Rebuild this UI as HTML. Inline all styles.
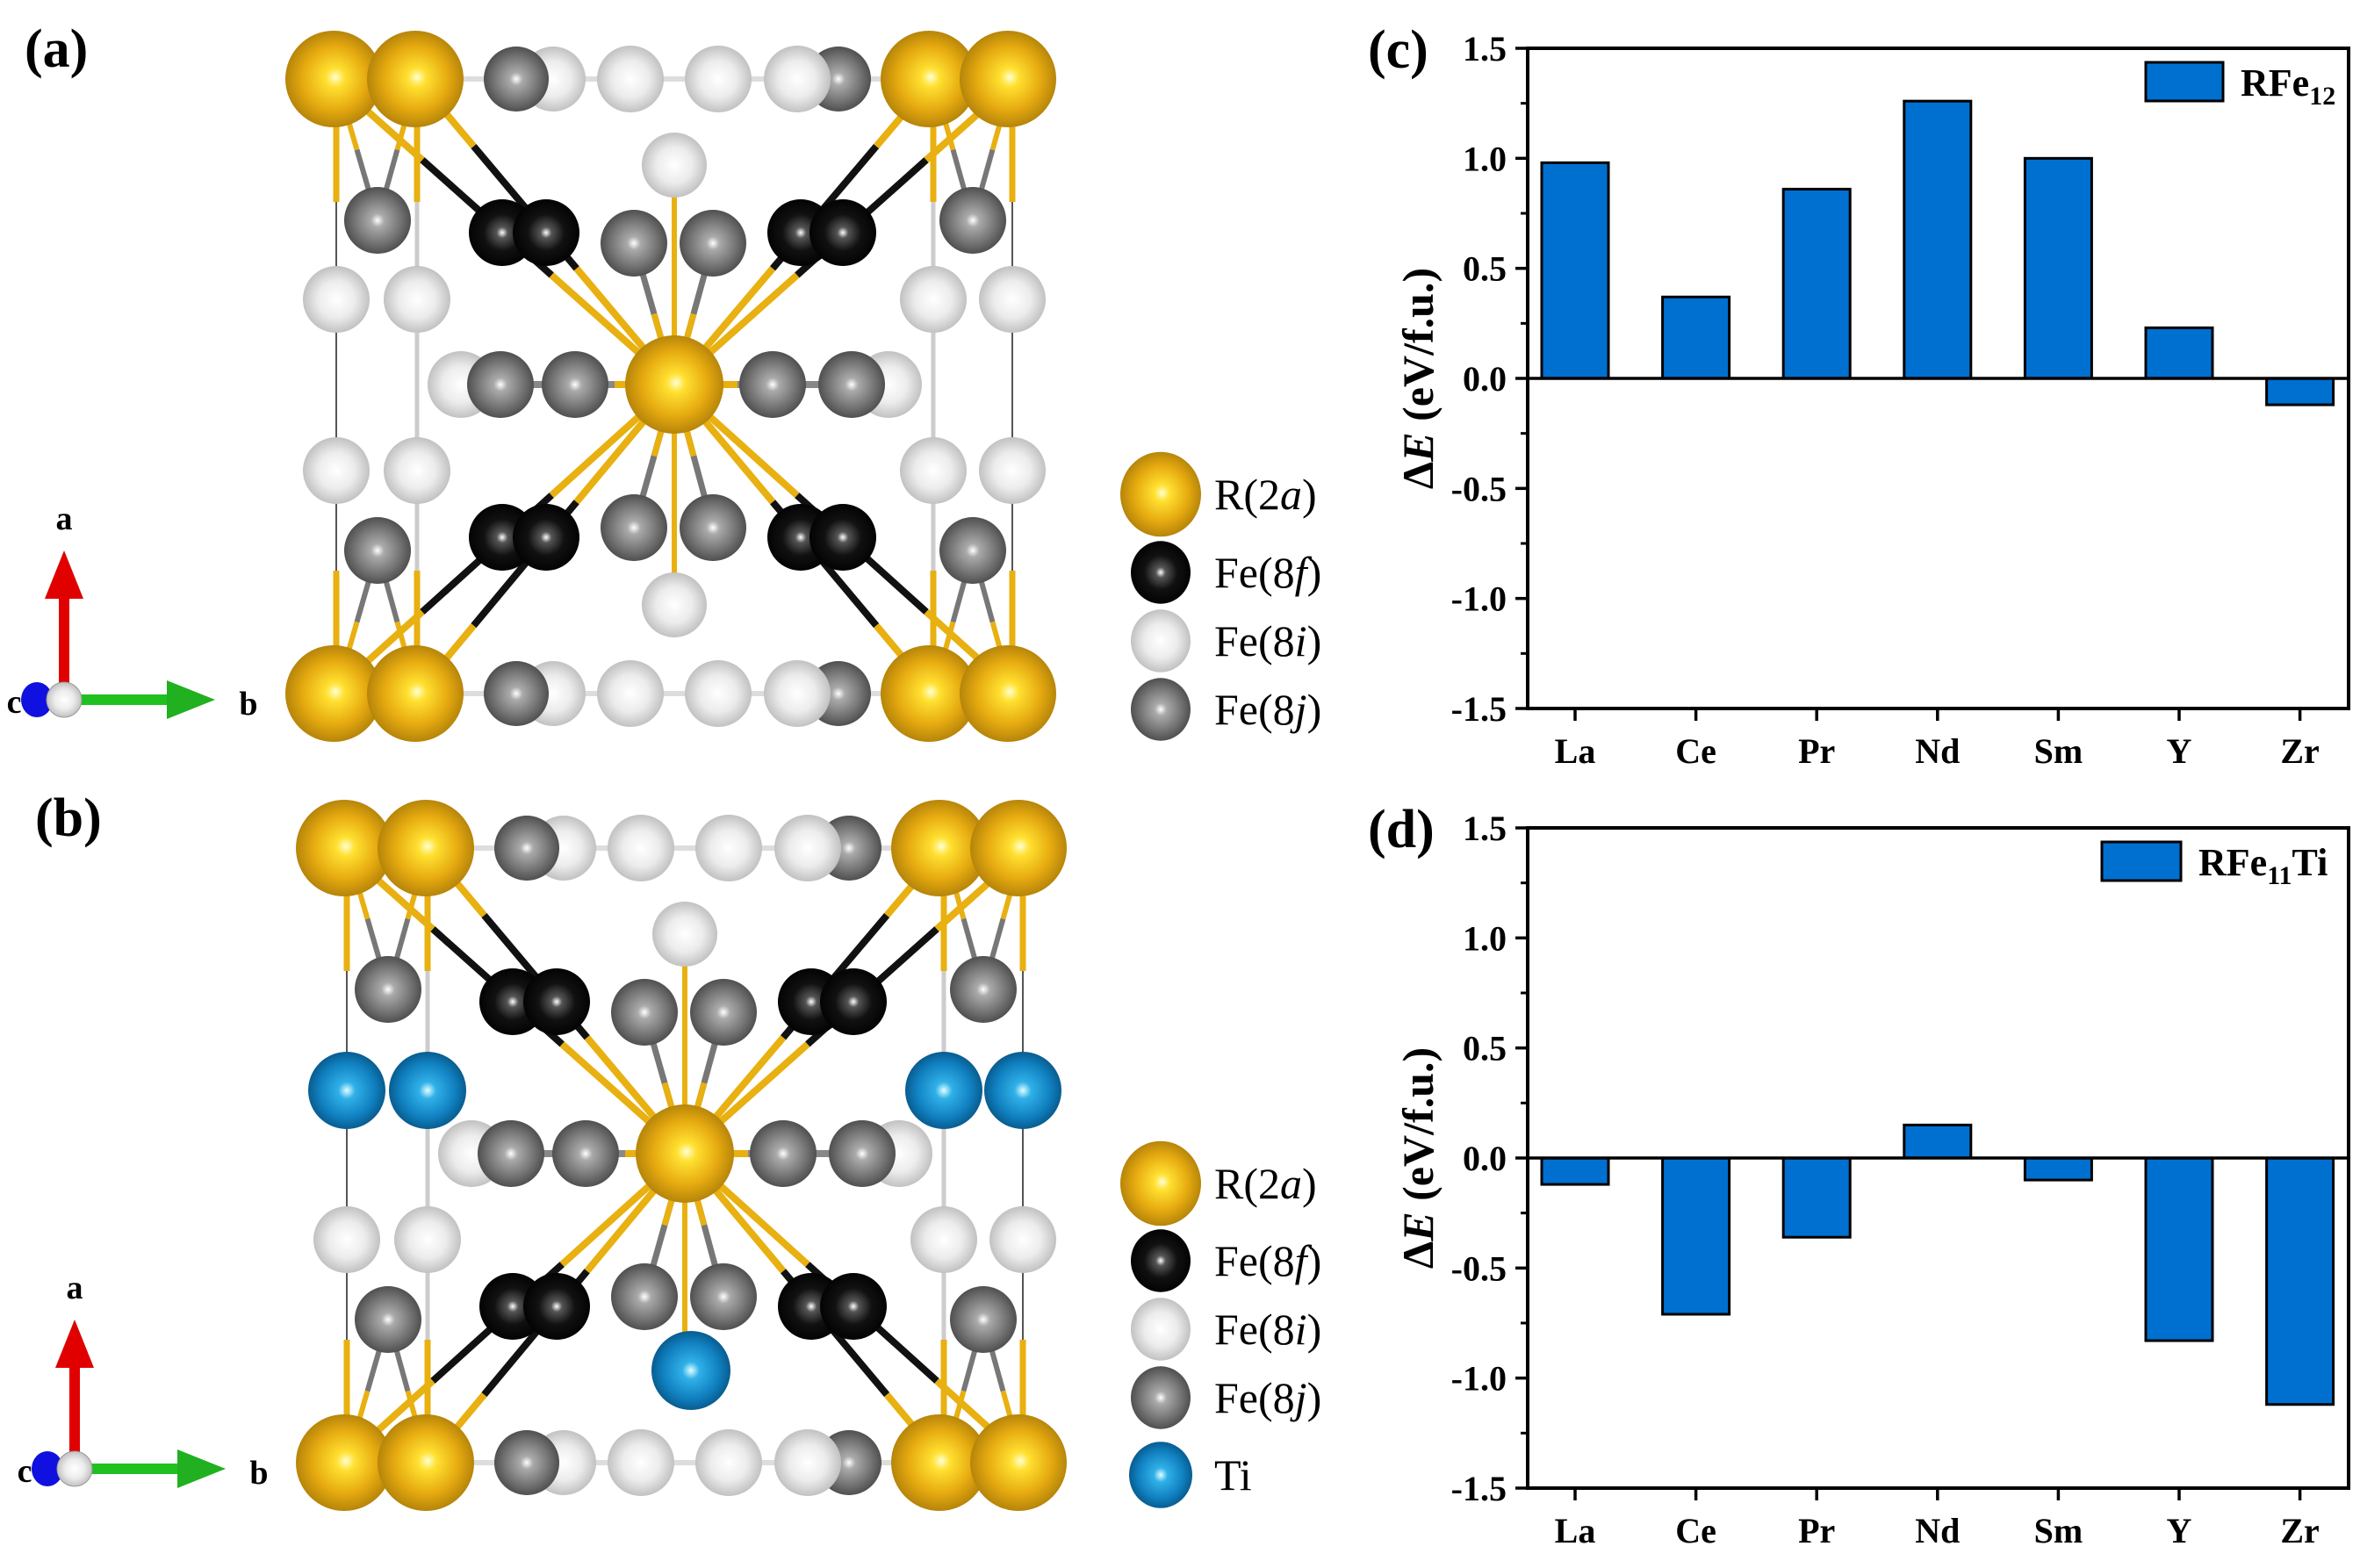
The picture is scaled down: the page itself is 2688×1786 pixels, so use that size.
<!DOCTYPE html>
<html><head><meta charset="utf-8"><style>
html,body{margin:0;padding:0;background:#fff;}
svg{display:block;}
text{font-family:"Liberation Serif",serif;}
</style></head><body>
<svg id="fig" width="2688" height="1786" viewBox="0 0 2688 1786" xmlns="http://www.w3.org/2000/svg">
<defs>
<radialGradient id="gGold" cx="50%" cy="50%" r="55%" fx="52%" fy="48%"><stop offset="0" stop-color="#ffffd0"/><stop offset="0.18" stop-color="#ffe030"/><stop offset="0.6" stop-color="#e6aa10"/><stop offset="1" stop-color="#a87a08"/></radialGradient>
<radialGradient id="gBlack" cx="50%" cy="50%" r="55%"><stop offset="0" stop-color="#ffffff"/><stop offset="0.15" stop-color="#555"/><stop offset="0.5" stop-color="#111"/><stop offset="1" stop-color="#000"/></radialGradient>
<radialGradient id="gLight" cx="50%" cy="50%" r="55%"><stop offset="0" stop-color="#ffffff"/><stop offset="0.5" stop-color="#ececec"/><stop offset="1" stop-color="#b8b8b8"/></radialGradient>
<radialGradient id="gGrey" cx="50%" cy="50%" r="55%"><stop offset="0" stop-color="#ffffff"/><stop offset="0.18" stop-color="#aaa"/><stop offset="0.6" stop-color="#777"/><stop offset="1" stop-color="#444"/></radialGradient>
<radialGradient id="gTi" cx="50%" cy="50%" r="55%"><stop offset="0" stop-color="#e0ffff"/><stop offset="0.2" stop-color="#30b0e8"/><stop offset="0.65" stop-color="#1080c0"/><stop offset="1" stop-color="#06507e"/></radialGradient>
</defs>
<g id="structs"></g>
<g id="charts"></g>
</svg>
<script>
// ===== Chart data =====
var categories = ["La","Ce","Pr","Nd","Sm","Y","Zr"];
var valuesC = [0.98, 0.37, 0.86, 1.26, 1.00, 0.23, -0.12];
var valuesD = [-0.12, -0.71, -0.36, 0.15, -0.10, -0.83, -1.12];
var yTickValues = [1.5, 1.0, 0.5, 0.0, -0.5, -1.0, -1.5];
var yTickLabels = ["1.5","1.0","0.5","0.0","-0.5","-1.0","-1.5"];
var yMinorValues = [1.25, 0.75, 0.25, -0.25, -0.75, -1.25];
var seriesNames = ["RFe", "RFe"];

var NS = "http://www.w3.org/2000/svg";
function mk(tag, attrs, parent){ var e=document.createElementNS(NS,tag); for(var k in attrs) e.setAttribute(k, attrs[k]); parent.appendChild(e); return e; }

var charts = document.getElementById('charts');
function drawChart(top, bottom, vals, label, legendSub, legendTail, legBox, panelLetter){
  var left=1740, right=2675, yMin=-1.5, yMax=1.5;
  function yS(v){ return bottom - (v - yMin)/(yMax - yMin)*(bottom-top); }
  function xS(i){ return left + 54 + i*137.6; }
  var g = mk('g', {}, charts);
  
  
  for (var i=0;i<vals.length;i++){
    var y0=yS(0), y1=yS(vals[i]);
    var r = mk('rect', {x:xS(i)-38, y:Math.min(y0,y1), width:76, height:Math.abs(y1-y0), fill:'#0070d0', stroke:'#000', 'stroke-width':3}, g);
    
    
  }
  var zl = mk('line', {x1:left, x2:right, y1:yS(0), y2:yS(0), stroke:'#000', 'stroke-width':3.5}, g);
  
  
  var fr = mk('rect', {x:left, y:top, width:right-left, height:bottom-top, fill:'none', stroke:'#000', 'stroke-width':4}, g);
  
  
  for (var j=0;j<yTickValues.length;j++){
    var ty=yS(yTickValues[j]);
    mk('line', {x1:left-14, x2:left, y1:ty, y2:ty, stroke:'#000', 'stroke-width':3.5}, g);
    var t = mk('text', {x:left-24, y:ty+14, 'text-anchor':'end', 'font-size':40, 'font-weight':'bold'}, g);
    t.textContent = yTickLabels[j];
    
    
  }
  for (var m=0;m<yMinorValues.length;m++){
    var my=yS(yMinorValues[m]);
    mk('line', {x1:left-8, x2:left, y1:my, y2:my, stroke:'#000', 'stroke-width':3}, g);
  }
  for (var c=0;c<categories.length;c++){
    mk('line', {x1:xS(c), x2:xS(c), y1:bottom, y2:bottom+14, stroke:'#000', 'stroke-width':3.5}, g);
    var xt = mk('text', {x:xS(c), y:bottom+62, 'text-anchor':'middle', 'font-size':40, 'font-weight':'bold'}, g);
    xt.textContent = categories[c];
    
    
  }
  var cy=(top+bottom)/2;
  var yt = mk('text', {x:0, y:0, transform:'translate(1632,'+cy+') rotate(-90)', 'text-anchor':'middle', 'font-size':50, 'font-weight':'bold'}, g);
  yt.innerHTML = 'Δ<tspan font-style="italic">E</tspan> (eV/f.u.)';
  
  
  var lb = mk('rect', {x:legBox[0], y:legBox[1], width:legBox[2], height:44, fill:'#0070d0', stroke:'#000', 'stroke-width':3}, g);
  
  
  var lt = mk('text', {x:legBox[0]+legBox[2]+20, y:legBox[1]+38, 'font-size':44, 'font-weight':'bold'}, g);
  lt.innerHTML = label + '<tspan font-size="30" dy="10">' + legendSub + '</tspan><tspan dy="-10">' + legendTail + '</tspan>';
  
  
  var pl = mk('text', {x:1558, y:top+22, 'font-size':62, 'font-weight':'bold'}, g);
  pl.textContent = '(' + panelLetter + ')';
  
  
}
drawChart(55, 807, valuesC, seriesNames[0], '12', '', [2444,71,88], 'c');
drawChart(943, 1695, valuesD, seriesNames[1], '11', 'Ti', [2394,959,90], 'd');

// ===== Crystal structures =====
var S = document.getElementById('structs');
function atom(g, x, y, r, fill, name){
  var e = mk('ellipse', {cx:x, cy:y, rx:r, ry:r, fill:'url(#'+fill+')'}, g);
  
  
}
function bond(g, x1,y1,x2,y2,col,w){ mk('line',{x1:x1,y1:y1,x2:x2,y2:y2,stroke:col,'stroke-width':w||7},g); }
function lerp(a,b,t){ return a+(b-a)*t; }

function drawStruct(dx, dy, withTi, letter){
  var g = mk('g', {transform:'translate('+dx+','+dy+')'}, S);
  
  
  var GD='#e8b010';
  bond(g,383,90,383,790,'#555',2); bond(g,1153,90,1153,790,'#555',2);
  bond(g,475,90,475,790,'#ccc',5); bond(g,1063,90,1063,790,'#ccc',5);
  bond(g,380,90,1145,90,'#ddd',6);
  bond(g,380,790,1145,790,'#ddd',6);
  [383,475,1063,1153].forEach(function(x){ bond(g,x,140,x,230,GD,7); bond(g,x,650,x,740,GD,7); });
  // side 8j to corner bonds
  [[430,251,383,90],[430,251,475,90],[1108,251,1063,90],[1108,251,1153,90],[430,627,383,790],[430,627,475,790],[1108,627,1063,790],[1108,627,1153,790]].forEach(function(b){
    bond(g,b[0],b[1],lerp(b[0],b[2],0.5),lerp(b[1],b[3],0.5),'#777',6);
    bond(g,lerp(b[0],b[2],0.5),lerp(b[1],b[3],0.5),b[2],b[3],GD,6);
  });
  var cx=768, cy=438;
  [[475,90],[1063,90],[475,790],[1063,790],[400,110],[1136,110],[400,770],[1136,770]].forEach(function(p){
    var ax=lerp(cx,p[0],0.38), ay=lerp(cy,p[1],0.38);
    var bx=lerp(cx,p[0],0.78), by=lerp(cy,p[1],0.78);
    bond(g,cx,cy,ax,ay,GD,8);
    bond(g,ax,ay,bx,by,'#111',8);
    bond(g,bx,by,p[0],p[1],GD,8);
  });
  [[722,277],[812,277],[722,601],[812,601]].forEach(function(p){ bond(g,cx,cy,p[0],p[1],'#777',7); bond(g,cx,cy,(cx+p[0])/2,(cy+p[1])/2,GD,7); });
  bond(g,768,188,768,689,GD,6);
  bond(g,520,438,1012,438,'#888',8); bond(g,700,438,840,438,GD,8);
  [90,790].forEach(function(y){
    atom(g,630,y,37,'gLight','fe-8i'); atom(g,588,y,37,'gGrey','fe-8j');
    atom(g,718,y,38,'gLight','fe-8i'); atom(g,818,y,38,'gLight','fe-8i');
    atom(g,955,y,37,'gGrey','fe-8j'); atom(g,908,y,38,'gLight','fe-8i');
  });
  [251,627].forEach(function(y){ atom(g,430,y,38,'gGrey','fe-8j'); atom(g,1108,y,38,'gGrey','fe-8j'); });
  [341,536].forEach(function(y,k){
    [383,475,1063,1153].forEach(function(x){
      if (withTi && k===0) atom(g,x,y+25,44,'gTi','ti'); else atom(g,x,y,38,'gLight','fe-8i');
    });
  });
  [265,612].forEach(function(y){ atom(g,572,y,38,'gBlack','fe-8f'); atom(g,622,y,38,'gBlack','fe-8f'); atom(g,912,y,38,'gBlack','fe-8f'); atom(g,960,y,38,'gBlack','fe-8f'); });
  [277,601].forEach(function(y){ atom(g,722,y,38,'gGrey','fe-8j'); atom(g,812,y,38,'gGrey','fe-8j'); });
  atom(g,768,188,37,'gLight','fe-8i');
  if (withTi) atom(g,775,685,45,'gTi','ti'); else atom(g,768,689,37,'gLight','fe-8i');
  atom(g,525,438,38,'gLight','fe-8i'); atom(g,570,438,38,'gGrey','fe-8j'); atom(g,655,438,38,'gGrey','fe-8j');
  atom(g,1012,438,38,'gLight','fe-8i'); atom(g,970,438,38,'gGrey','fe-8j'); atom(g,880,438,38,'gGrey','fe-8j');
  atom(g,768,438,56,'gGold','r-2a');
  [90,790].forEach(function(y){ [380,473,1058,1148].forEach(function(x){ atom(g,x,y,55,'gGold','r-2a'); }); });
  var ax = mk('g', {}, g);
  
  
  mk('rect',{x:67,y:680,width:12,height:117,fill:'#e00000'},ax);
  mk('polygon',{points:'51,682 95,682 73,627',fill:'#e00000'},ax);
  mk('rect',{x:80,y:791,width:115,height:12,fill:'#20c020'},ax);
  mk('polygon',{points:'190,775 190,819 245,797',fill:'#20b020'},ax);
  mk('ellipse',{cx:42,cy:797,rx:18,ry:20,fill:'#1010e0'},ax);
  mk('ellipse',{cx:73,cy:797,rx:20,ry:20,fill:'url(#gLight)',stroke:'#999','stroke-width':1},ax);
  var ta=mk('text',{x:73,y:603,'text-anchor':'middle','font-family':'Liberation Sans','font-size':38,'font-weight':'bold'},ax); ta.textContent='a';
  var tb=mk('text',{x:283,y:814,'text-anchor':'middle','font-family':'Liberation Sans','font-size':38,'font-weight':'bold'},ax); tb.textContent='b';
  var tc=mk('text',{x:16,y:812,'text-anchor':'middle','font-family':'Liberation Sans','font-size':38,'font-weight':'bold'},ax); tc.textContent='c';
  var pl=mk('text',{x:28,y:76,'font-size':62,'font-weight':'bold'},g); pl.textContent='('+letter+')';
  
  
}
drawStruct(0,0,false,'a');
drawStruct(12,876,true,'b');

function legend(items, ys){
  var g = mk('g', {}, S);
  
  
  items.forEach(function(it,i){
    mk('ellipse',{cx:1322,cy:ys[i],rx:it[2],ry:it[2]*1.05,fill:'url(#'+it[0]+')'},g);
    var t = mk('text',{x:1383,y:ys[i]+17,'font-size':50},g);
    t.innerHTML = it[1];
    
    
  });
}
legend([['gGold','R(2<tspan font-style="italic">a</tspan>)',46],['gBlack','Fe(8<tspan font-style="italic">f</tspan>)',34],['gLight','Fe(8<tspan font-style="italic">i</tspan>)',34],['gGrey','Fe(8<tspan font-style="italic">j</tspan>)',34]],[563,652,730,808]);
legend([['gGold','R(2<tspan font-style="italic">a</tspan>)',46],['gBlack','Fe(8<tspan font-style="italic">f</tspan>)',34],['gLight','Fe(8<tspan font-style="italic">i</tspan>)',34],['gGrey','Fe(8<tspan font-style="italic">j</tspan>)',34],['gTi','Ti',36]],[1348,1436,1514,1592,1680]);
</script>
</body></html>
